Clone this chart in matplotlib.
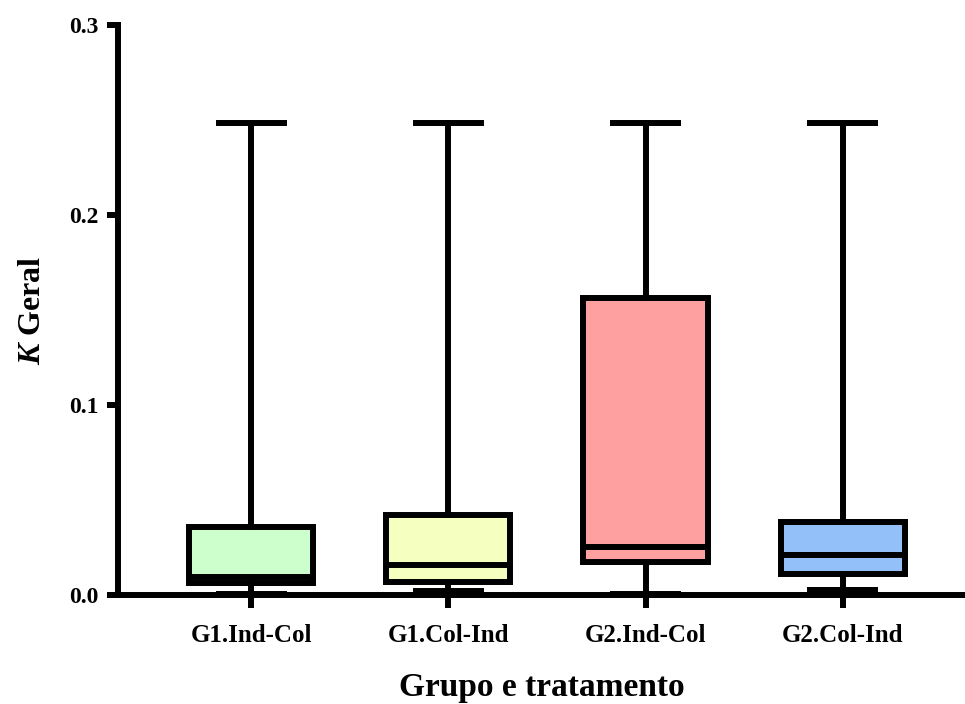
import matplotlib
matplotlib.use("Agg")
import matplotlib.pyplot as plt

# box summaries per group (K Geral)
groups = ["G1.Ind-Col", "G1.Col-Ind", "G2.Ind-Col", "G2.Col-Ind"]
whislo = [0.0003, 0.0020, 0.0005, 0.0026]
q1 = [0.0063, 0.0068, 0.0174, 0.0110]
med = [0.0095, 0.0158, 0.0253, 0.0210]
q3 = [0.0358, 0.0420, 0.1563, 0.0384]
whishi = [0.2484, 0.2484, 0.2484, 0.2484]
colors = ["#CCFFCC", "#F4FFC0", "#FFA0A0", "#93C0F8"]

plt.rcParams["font.family"] = "Liberation Serif"
plt.rcParams["font.weight"] = "bold"
plt.rcParams["axes.labelweight"] = "bold"
plt.rcParams["mathtext.fontset"] = "custom"
plt.rcParams["mathtext.it"] = "Liberation Serif:italic:bold"
plt.rcParams["mathtext.rm"] = "Liberation Serif:bold"

lw = 4.3

fig = plt.figure(figsize=(9.65, 7.04), dpi=100)
ax = fig.add_axes([0.1223, 0.1548, 0.8777, 0.8097])

stats = []
for i, g in enumerate(groups):
    stats.append(dict(label=g, whislo=whislo[i], q1=q1[i], med=med[i],
                      q3=q3[i], whishi=whishi[i], fliers=[]))

bp = ax.bxp(stats, positions=[1, 2, 3, 4], widths=0.63, patch_artist=True,
            showfliers=False,
            boxprops=dict(linewidth=lw, edgecolor="black"),
            medianprops=dict(linewidth=lw, color="black", solid_capstyle="butt"),
            whiskerprops=dict(linewidth=lw, color="black"),
            capprops=dict(linewidth=lw, color="black"),
            capwidths=0.33)
for patch, c in zip(bp["boxes"], colors):
    patch.set_facecolor(c)
    patch.set_joinstyle("miter")
for art in bp["caps"] + bp["whiskers"]:
    art.set_clip_on(False)

ax.set_xlim(0.325, 4.62)
ax.set_ylim(0, 0.3)
ax.set_yticks([0.0, 0.1, 0.2, 0.3])
ax.set_yticklabels(["0.0", "0.1", "0.2", "0.3"])
ax.set_xticks([1, 2, 3, 4])
ax.set_xticklabels(groups)

for side in ["top", "right"]:
    ax.spines[side].set_visible(False)
for side in ["left", "bottom"]:
    ax.spines[side].set_linewidth(lw)
    ax.spines[side].set_zorder(5)
ax.spines["left"].set_capstyle("projecting")

ax.tick_params(axis="y", width=lw, length=8, labelsize=17, pad=6)
ax.tick_params(axis="x", width=lw, length=9, labelsize=18, pad=12)

ax.set_ylabel("$K$ Geral", fontsize=23, fontweight="bold", labelpad=16)
ax.set_xlabel("Grupo e tratamento", fontsize=24, fontweight="bold", labelpad=18)

fig.savefig("out.png", dpi=100)
